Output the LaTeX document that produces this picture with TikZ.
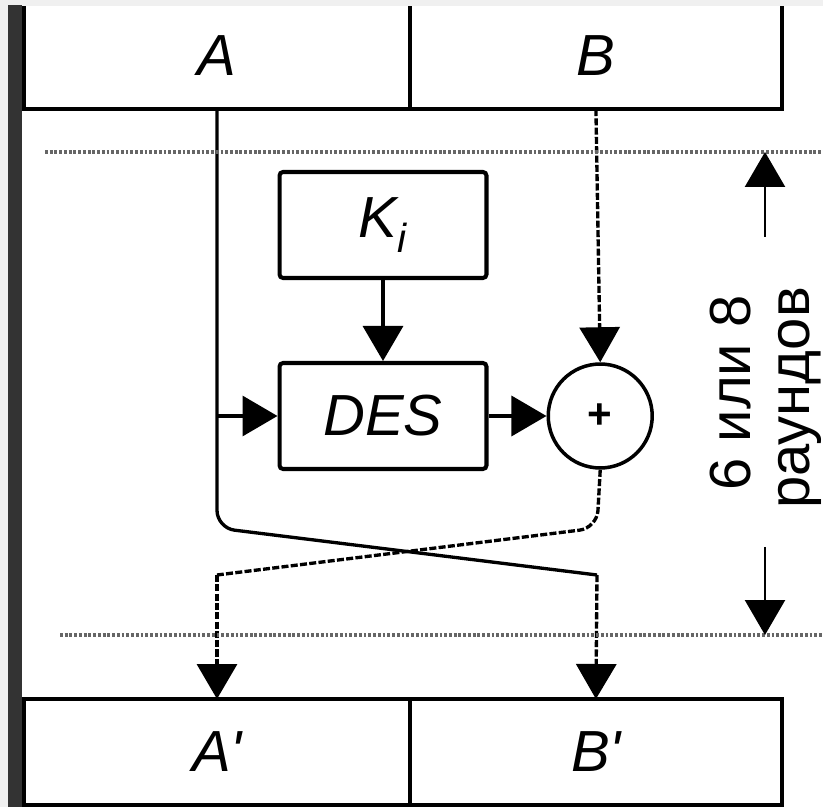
\documentclass[tikz,border=0pt]{standalone}
\usepackage{fontspec}
\setmainfont{Liberation Sans}
\usepackage{tikz}
\usetikzlibrary{arrows.meta,positioning}
\newcommand\bigfont{\fontsize{33}{38}\selectfont}

\begin{document}
\begin{tikzpicture}[
  x=0.02cm, y=-0.02cm,
  node distance=1.62cm and 1.16cm,
  half/.style={draw,line width=2.3pt,outer sep=0pt,minimum width=7.72cm,
               minimum height=2.12cm,font=\bigfont\itshape},
  box/.style={draw,rounded corners=2pt,line width=2.3pt,minimum width=4.14cm,
              minimum height=2.12cm,font=\bigfont\itshape},
  xor/.style={draw,circle,line width=2pt,minimum size=2.08cm,inner sep=0pt,
              font=\fontsize{24}{26}\selectfont\bfseries},
  arr/.style={-{Triangle[length=7mm,width=8mm]},line width=1.9pt},
  broken/.style={dash pattern=on 4pt off 1.3pt},
  dots/.style={black!60,line width=1.8pt,dash pattern=on 1.6pt off 1.1pt}
]
  \useasboundingbox (0,0) rectangle (823,807);
  \clip (0,0) rectangle (823,807);
  % scan frame
  \fill[black!6] (0,0) rectangle (823,807);
  \fill[white] (22,5) rectangle (823,807);
  \fill[black!80] (8,5) rectangle (22,807);

  % input and output halves
  \node[half] (topA) at (217,56) {A};
  \node[half,minimum width=7.44cm,right=0pt of topA] (topB) {B};
  \node[half] (botA) at (217,752) {A\textquotesingle};
  \node[half,minimum width=7.44cm,right=0pt of botA] (botB) {B\textquotesingle};
  \fill[black!6] (22,0) rectangle (823,6);

  % round function
  \node[box] (key) at (383,225) {K\textsubscript{i}};
  \node[box,below=of key] (des) {DES};
  \node[xor,right=of des] (xor) {+};

  \coordinate (lc) at (217,528);
  \coordinate (rc) at (597,528);
  \coordinate (lb) at (217,575);
  \coordinate (rb) at (597,575);

  \draw[arr] (key) -- (des);
  \draw[arr] (topA.south |- des.west) -- (des.west);
  \draw[arr] (des) -- (xor);
  \draw[arr,broken] (topB.south) -- (xor.north);
  \draw[line width=1.9pt,rounded corners=10pt] (topA.south) -- (lc) -- (rb);
  \draw[line width=1.9pt,rounded corners=10pt,broken] (xor.south) -- (rc) -- (lb);
  \draw[arr,broken] (lb) -- (botA.north);
  \draw[arr,broken] (rb) -- (botB.north);

  % round boundaries
  \coordinate (upl) at (45,152);
  \coordinate (upr) at (823,152);
  \coordinate (lol) at (60,635);
  \coordinate (lor) at (823,635);
  \draw[dots] (upl) -- (upr);
  \draw[dots] (lol) -- (lor);

  \coordinate (uptail) at (765,237);
  \coordinate (uptop) at (765,152);
  \coordinate (dntail) at (765,547);
  \coordinate (dnend) at (765,635);
  \draw[arr,line width=1.4pt] (uptail) -- (uptop);
  \draw[arr,line width=1.4pt] (dntail) -- (dnend);

  \node[rotate=90,anchor=base,font=\bigfont] (rnum) at (750,393) {6 или 8};
  \node[rotate=90,anchor=base,font=\bigfont] (rword) at (809,398) {раундов};
\end{tikzpicture}
\end{document}
